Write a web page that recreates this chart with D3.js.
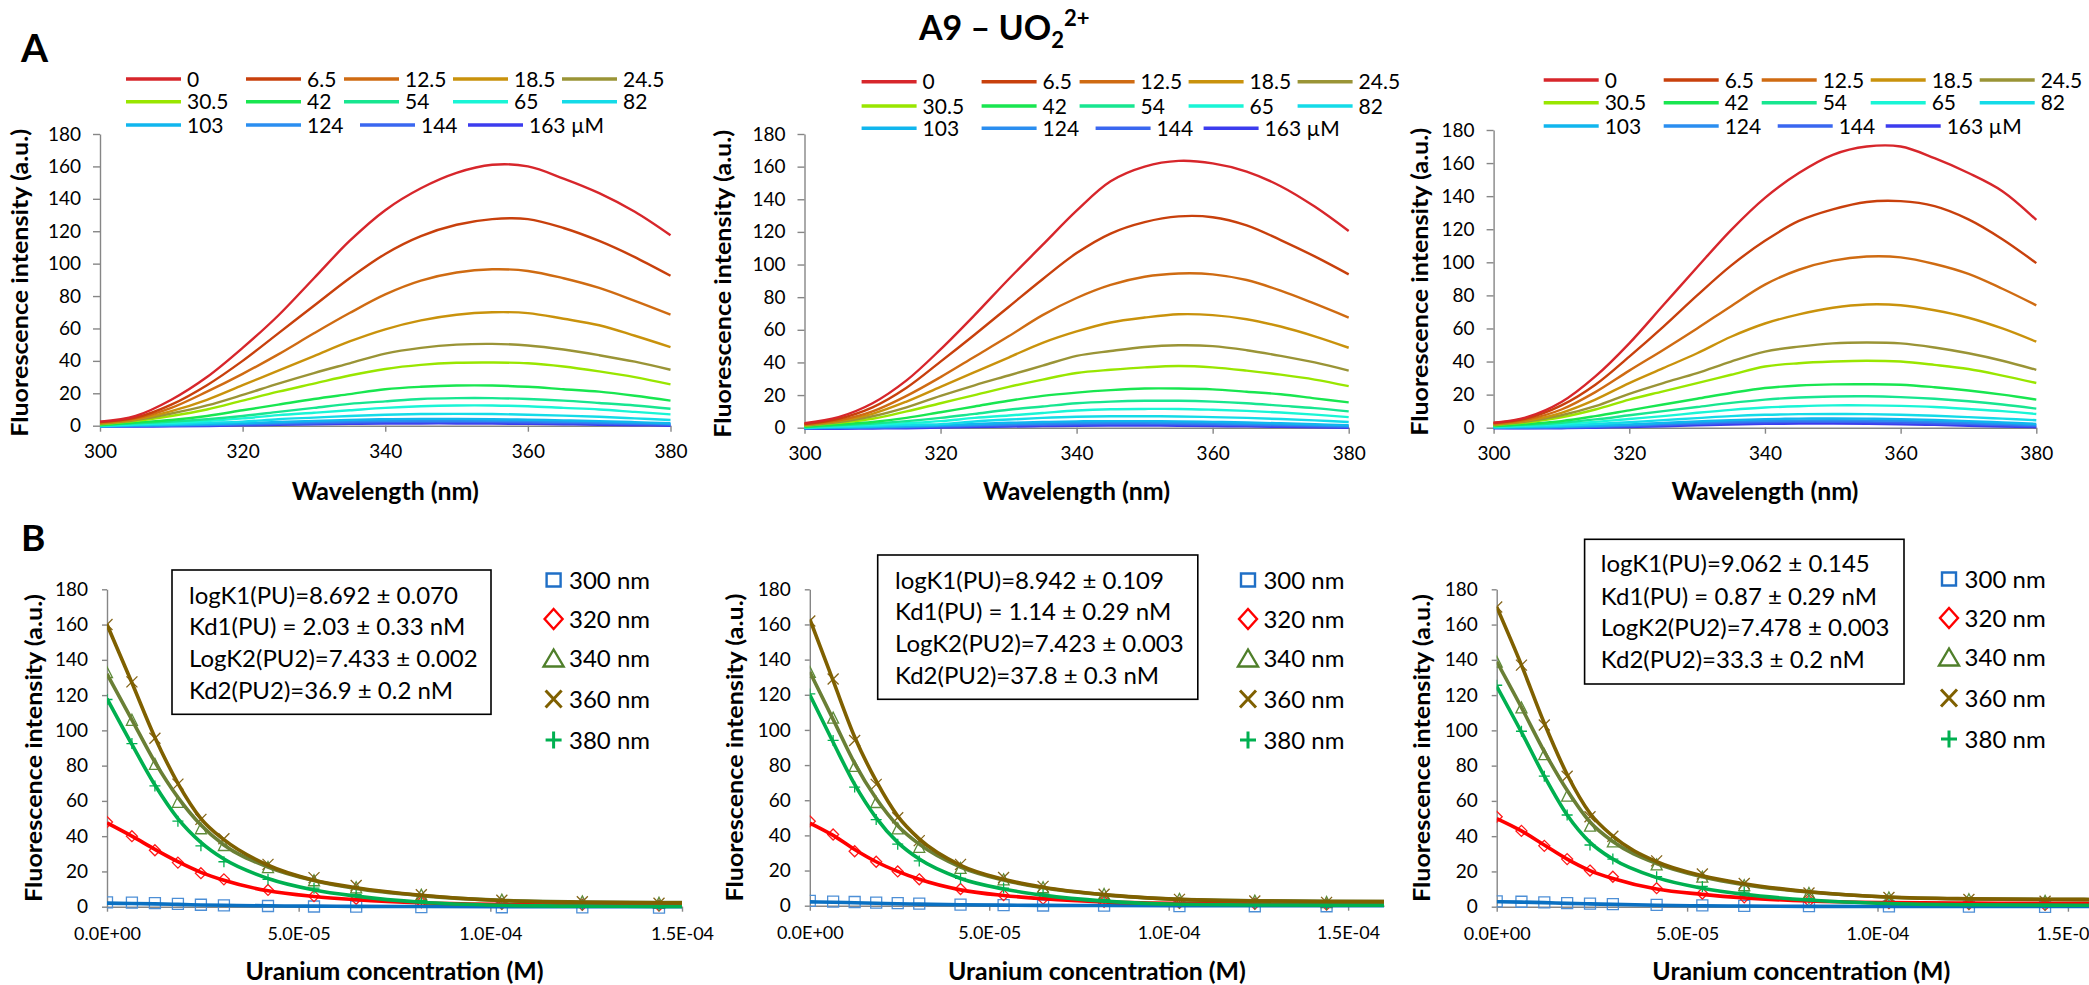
<!DOCTYPE html>
<html><head><meta charset="utf-8">
<script src="https://cdn.jsdelivr.net/npm/d3@7"></script>
<style>
body{margin:0;background:#fff;}
svg text{font-family:Lato,'Open Sans',sans-serif;fill:#000;}
</style></head><body><div id="chart"></div>
<script>
// ---------------- DATA ----------------
const wavelengths = [300,305,310,315,320,325,330,335,340,345,350,355,360,365,370,375,380];
const concentrationsUM = [0,6.5,12.5,18.5,24.5,30.5,42,54,65,82,103,124,144,163];
const legendLabels = ["0","6.5","12.5","18.5","24.5","30.5","42","54","65","82","103","124","144","163 µM"];

const spectraA1 = [
 [2.5,6,16,30,48,68,91,114,133,146.5,156,161,160,152.5,143.5,132,117.5],
 [2.3,5,13,25,40,57,74,91,106,117,124,127.5,127.5,122,114,104,92.5],
 [2,4.5,11,21,32,44,57,69.5,81,89.5,94.5,96.5,95.5,91,85,77,68.5],
 [1.6,4,9,16,25,34,43,52,59.5,65,68.5,70,69.5,66,62,55.5,48.5],
 [1.1,3.5,7.5,12.5,19,26,32.5,38.5,44.5,48,50,50.5,49.5,47,43.5,39.5,34.5],
 [0.8,3,6,10,15.5,21,26,31,35,37.5,38.8,39,38.5,36.5,33.5,30,25.5],
 [0.4,2,3.5,6,9.5,13,16.5,19.5,22.5,24,24.8,24.8,24,22.5,21,18.5,15.5],
 [0.1,1.5,2.5,4,6,8.5,11,13.5,15,16.5,17,17,16.5,15.5,14,12.5,10.5],
 [0,1,1.8,2.8,4.5,6.5,8,9.5,11,12,12.5,12.5,12,11,10,8.5,7],
 [-0.2,0.6,1,1.8,2.5,4,5,6,6.8,7.2,7.3,7.2,6.8,6.2,5.5,4.5,3.5],
 [-0.3,0.2,0.5,1,1.6,2.3,3,3.6,4,4.2,4.2,4,3.7,3.3,2.8,2.2,1.5],
 [-0.4,0,0.3,0.6,1.1,1.6,2.2,2.7,3,3.2,3.2,3,2.8,2.4,2,1.5,1],
 [-0.5,-0.3,0,0.3,0.7,1.1,1.5,1.9,2.2,2.3,2.3,2.2,2,1.7,1.4,1,0.6],
 [-0.6,-0.5,-0.4,-0.2,0.2,0.5,0.8,1.1,1.3,1.4,1.4,1.3,1.1,0.9,0.6,0.3,0]
];
const spectraA2 = [
 [2.8,6.5,15,29,48,69,91,112,133,151,160,163.5,162,157,148,135.5,120.5],
 [2.3,5.5,12.5,24.5,40.5,57,74,91,107,119,126,129.5,129,124,115,105,94],
 [2.1,4.5,10,19.5,31,43.5,56,69,79.5,87.5,92.5,94.5,94,90.5,84,76,67.5],
 [1.8,4,8.5,16,25,34,43,52,59,64.5,67.5,69.5,69,66.5,62,56,49],
 [1.5,3.5,7,12.5,19.5,26,32,38,44,47,49.5,50.5,50,47.5,44,40,35],
 [1.2,3,5.5,10,15,20,25,29.5,33.5,35.5,37,37.8,37,35,32.5,29.5,25.5],
 [0.6,2,3.5,6,9.5,13,16.5,19.5,21.5,23,24,24,23.5,22,20.5,18,15.5],
 [0.3,1.5,2.5,4,6,8.5,11,13,15,16,16.5,16.5,16,15,13.5,12,10],
 [0.1,1,1.8,2.8,4,6,7.5,9,10.5,11.3,11.5,11.5,11,10.3,9.3,8,6.5],
 [0,0.6,1,1.8,2.2,3.8,5,6,6.7,7,7,6.9,6.5,6,5.3,4.5,3.5],
 [-0.2,0.2,0.5,1,1.6,2.3,3,3.5,3.9,4,4,3.9,3.6,3.2,2.7,2.1,1.5],
 [-0.3,0,0.3,0.6,1.1,1.6,2.1,2.6,2.9,3.1,3.1,2.9,2.7,2.3,1.9,1.4,0.9],
 [-0.3,-0.3,0,0.3,0.7,1.1,1.5,1.8,2.1,2.2,2.2,2.1,1.9,1.6,1.3,0.9,0.5],
 [-0.6,-0.6,-0.5,-0.3,0.1,0.4,0.7,1,1.2,1.3,1.3,1.2,1,0.8,0.5,0.2,-0.1]
];
const spectraA3 = [
 [3,6.5,15.5,31,51,74,97,119.5,139,154,165,170,170,163,154,143,125.6],
 [2.8,5.8,13.5,26,43,61,80,98,113,125,132,136.5,137,134,126,114,99.5],
 [2.5,5,11,21.5,34.5,47,60,73.5,86.5,95.5,101,103.5,103,99,93,84,74],
 [2,4.3,9,17,27,36,45,55,63,68.5,72.5,74.5,74,71,66.5,60,52],
 [1.8,3.8,7.5,13,20.5,27,33,40,46,49,51,51.5,51,48.5,45,40.5,35],
 [1.5,3.3,6.3,11,17,22,27,32,37,39,40,40.5,40,38,35.5,31.5,27],
 [1,2.3,4,7,10.5,14,17.5,21,24,25.5,26.2,26.3,26,24.5,22.5,20,17],
 [0.8,1.8,3,5,7.5,10,12.5,15,17,18.3,18.9,19,18.5,17.5,16,14,11.5],
 [0.5,1.3,2.2,3.5,5.3,7,9,10.8,12.2,13,13.5,13.5,13.2,12.5,11.3,10,8.3],
 [0.3,0.8,1.3,2.2,3.3,4.6,5.8,7,7.8,8.2,8.3,8.2,7.8,7.2,6.4,5.5,4.5],
 [0.2,0.4,0.7,1.3,2,2.9,3.8,4.6,5.2,5.5,5.6,5.5,5.2,4.7,4,3.2,2.3],
 [0,0.1,0.4,0.9,1.5,2.3,3,3.7,4.2,4.4,4.5,4.4,4.1,3.6,3,2.3,1.5],
 [-0.1,-0.2,0.1,0.5,1,1.6,2.3,2.9,3.3,3.5,3.5,3.4,3.1,2.7,2.2,1.6,1],
 [-0.4,-0.4,-0.3,0,0.4,0.9,1.4,1.9,2.3,2.5,2.5,2.4,2.1,1.7,1.2,0.7,0.3]
];

// Panel B: markers are the spectra values at these wavelengths
const bWavelengths = [300,320,340,360,380];
const bWavelengthLabels = ["300 nm","320 nm","340 nm","360 nm","380 nm"];
// fitted curves (a.u.) at concentrationsUM, one row per wavelength
const fitB1 = [
 [2,1.8,1.6,1.3,1,0.8,0.5,0.3,0.2,0.1,0,0,0,0],
 [47.5,40,32.5,25.5,19.5,15,9,5.8,4,2.2,1.3,1,0.9,0.9],
 [132,106,82,62,46.3,35,22.5,14.8,10.3,6.3,3.6,2.7,2.4,2.3],
 [160,127,96,70,50,38,23.5,15,10.8,6.5,3.5,2.5,2.2,2.1],
 [118,92,69,50,36.5,27,16,9.5,6,2.5,0.8,0.3,0.2,0.2]
];
const fitB2 = [
 [2.2,2,1.7,1.4,1.1,0.9,0.5,0.3,0.2,0.1,0,0,0,0],
 [47,40,32,25,19.5,15,9,5.8,4,2.2,1.3,1,0.9,0.9],
 [133,106,81,61,45.5,35,22,14.6,10.2,6.2,3.6,2.8,2.5,2.4],
 [163,128,96,71,51,38,23,15,10.5,6.3,3.6,2.7,2.4,2.3],
 [120,93,69,50,36,26.5,15.5,9.5,6,2.6,0.8,0.4,0.3,0.3]
];
const fitB3 = [
 [2.8,2.6,2.3,1.9,1.6,1.3,0.8,0.5,0.4,0.2,0.1,0.1,0.1,0.1],
 [50,43,35,27,20.5,16,10,7,5,3.2,2.3,2,1.9,1.9],
 [139,113,88,66,48,37,24.5,17,12.5,8.3,5.4,4.4,4.1,4],
 [170,137,104,75,53,40,25.5,17.5,13,8.5,5.5,4.5,4.2,4.1],
 [125,99,74,52,36.5,27,16.5,10.5,7,3.8,1.8,1.1,0.9,0.8]
];
const fitText1 = ["logK1(PU)=8.692 ± 0.070","Kd1(PU) = 2.03 ± 0.33 nM","LogK2(PU2)=7.433 ± 0.002","Kd2(PU2)=36.9 ± 0.2 nM"];
const fitText2 = ["logK1(PU)=8.942 ± 0.109","Kd1(PU) = 1.14 ± 0.29 nM","LogK2(PU2)=7.423 ± 0.003","Kd2(PU2)=37.8 ± 0.3 nM"];
const fitText3 = ["logK1(PU)=9.062 ± 0.145","Kd1(PU) = 0.87 ± 0.29 nM","LogK2(PU2)=7.478 ± 0.003","Kd2(PU2)=33.3 ± 0.2 nM"];

const xTicksA = [300,320,340,360,380];
const yTicks = [0,20,40,60,80,100,120,140,160,180];
const xTicksB = [0,5e-5,1e-4,1.5e-4];
const xTickLabelsB = ["0.0E+00","5.0E-05","1.0E-04","1.5E-04"];

// ---------------- STYLE / LAYOUT ----------------
const seriesColors = ["#d7262b","#c8400c","#cf6b12","#c9920c","#9a9436","#99e600","#18e650","#17e690","#19f5d6","#14dbe8","#10b6ee","#2a8ef0","#3a67f0","#3c3cee"];
const bLineColors = ["#0a70c2","#ff0000","#6a7f35","#7f6000","#00b050"];
const bMarkColors = ["#4d8fd6","#ff1a1a","#5e8c3a","#86661a","#00b050"];
const bLegColors  = ["#1f6fc6","#ff0000","#4f7f2a","#7f6000","#00b050"];
const bMarkers = ["square","diamond","triangle","x","plus"];
const axisColor = "#868686";

const layoutA = [
 {x0:100, x1:670.5, yb:425.7, yt:134, legX:126, legY:[79,101.7,125], ytx:20, data:spectraA1},
 {x0:804.5, x1:1348.7, yb:427.7, yt:134, legX:861.6, legY:[81.7,106,128.3], ytx:723, data:spectraA2},
 {x0:1493.6, x1:2036.3, yb:427.7, yt:130, legX:1543.7, legY:[80,102.7,126], ytx:1420, data:spectraA3}
];
const layoutB = [
 {x0:107, x1:682, xmax:1.5e-4, yb:906.7, yt:589.3, box:[172,570,491,714.3], textX:189, textY:[595,626.7,658.3,690], legMX:553.6, legTX:569, legY:[580,619,658,699,740], ytx:33.5, fit:fitB1, txt:fitText1, spec:spectraA1},
 {x0:809.8, x1:1384, xmax:1.6e-4, yb:905.7, yt:589.3, box:[877.7,555,1197.8,699.3], textX:895, textY:[580,611.7,643.3,675], legMX:1248, legTX:1263.4, legY:[580,619,658,699,740], ytx:734.6, fit:fitB2, txt:fitText2, spec:spectraA2},
 {x0:1496.7, x1:2106, xmax:1.6e-4, yb:906.7, yt:589.3, box:[1584.6,539.3,1904,684], textX:1600.8, textY:[563,596.7,627.7,659.3], legMX:1949, legTX:1964.6, legY:[579,618,657,698,739], ytx:1422, fit:fitB3, txt:fitText3, spec:spectraA3}
];
const legColOff = [0,120,218,327,436];
const legColOffRow3 = [0,120,234,342];

const W = 2089, H = 985;
const svg = d3.select("#chart").append("svg").attr("width",W).attr("height",H);

function styleAxis(g){
  g.selectAll("path.domain").attr("stroke",axisColor).attr("stroke-width",1.4);
  g.selectAll(".tick line").attr("stroke",axisColor).attr("stroke-width",1.4);
  g.selectAll(".tick text").attr("fill","#000");
}

// Title
const title = svg.append("text").attr("x",919).attr("y",40).attr("font-size",34).attr("font-weight","bold");
title.append("tspan").text("A9 – UO");
title.append("tspan").attr("font-size",22).attr("dy",8).text("2");
title.append("tspan").attr("font-size",22).attr("dy",-22).text("2+");

svg.append("text").attr("x",21).attr("y",62).attr("font-size",39).attr("font-weight","bold").text("A");
svg.append("text").attr("x",21).attr("y",551).attr("font-size",37).attr("font-weight","bold").text("B");

// ---------------- PANELS A ----------------
layoutA.forEach((L,pi)=>{
  const x = d3.scaleLinear().domain([300,380]).range([L.x0,L.x1]);
  const y = d3.scaleLinear().domain([0,180]).range([L.yb,L.yt]);
  const g = svg.append("g");
  const gy = g.append("g").attr("transform",`translate(${L.x0},0)`)
    .call(d3.axisLeft(y).tickValues(yTicks).tickSize(7).tickPadding(12).tickSizeOuter(0));
  gy.selectAll("text").attr("font-size",19);
  styleAxis(gy);
  const gx = g.append("g").attr("transform",`translate(0,${L.yb})`)
    .call(d3.axisBottom(x).tickValues(xTicksA).tickSize(6).tickPadding(13).tickSizeOuter(0));
  gx.selectAll("text").attr("font-size",19);
  styleAxis(gx);

  const line = d3.line().x((d,i)=>x(wavelengths[i])).y(d=>y(d)).curve(d3.curveCatmullRom.alpha(0.5));
  L.data.slice().reverse().forEach((s,ri)=>{
    const si = L.data.length-1-ri;
    g.append("path").attr("d",line(s)).attr("fill","none")
      .attr("stroke",seriesColors[si]).attr("stroke-width",2.4);
  });

  legendLabels.forEach((lab,i)=>{
    const row = Math.floor(i/5), col = i%5;
    const off = row<2 ? legColOff[col] : legColOffRow3[col];
    const lx = L.legX + off, ly = L.legY[row];
    g.append("line").attr("x1",lx).attr("x2",lx+55).attr("y1",ly).attr("y2",ly)
      .attr("stroke",seriesColors[i]).attr("stroke-width",3.6);
    g.append("text").attr("x",lx+61).attr("y",ly).attr("dy","0.36em").attr("font-size",21).text(lab);
  });

  g.append("text").attr("transform",`translate(${L.ytx},${(L.yb+L.yt)/2+3}) rotate(-90)`)
    .attr("text-anchor","middle").attr("dy","0.36em").attr("font-size",23).attr("font-weight","bold")
    .attr("textLength",308).attr("lengthAdjust","spacingAndGlyphs")
    .text("Fluorescence intensity (a.u.)");
  g.append("text").attr("x",(L.x0+L.x1)/2).attr("y",500).attr("text-anchor","middle")
    .attr("font-size",24).attr("font-weight","bold")
    .attr("textLength",187).attr("lengthAdjust","spacingAndGlyphs").text("Wavelength (nm)");
});

// ---------------- PANELS B ----------------
function markerPath(type,w,h){
  switch(type){
    case "square": return `M${-w},${-h}H${w}V${h}H${-w}Z`;
    case "diamond": return `M0,${-h}L${w},0L0,${h}L${-w},0Z`;
    case "triangle": return `M0,${-h}L${w},${h}L${-w},${h}Z`;
    case "x": return `M${-w},${-h}L${w},${h}M${w},${-h}L${-w},${h}`;
    case "plus": return `M${-w},0H${w}M0,${-h}V${h}`;
  }
}
const wlIndex = bWavelengths.map(w=>wavelengths.indexOf(w));

layoutB.forEach((L,pi)=>{
  const x = d3.scaleLinear().domain([0,L.xmax]).range([L.x0,L.x1]);
  const y = d3.scaleLinear().domain([0,180]).range([L.yb,L.yt]);
  const g = svg.append("g");
  const clipId = "clipB"+pi;
  svg.append("defs").append("clipPath").attr("id",clipId).append("rect")
    .attr("x",L.x0).attr("y",L.yt-20).attr("width",L.x1-L.x0).attr("height",L.yb-L.yt+30);

  const gy = g.append("g").attr("transform",`translate(${L.x0},0)`)
    .call(d3.axisLeft(y).tickValues(yTicks).tickSize(5).tickPadding(14).tickSizeOuter(0));
  gy.selectAll("text").attr("font-size",19);
  styleAxis(gy);
  const gx = g.append("g").attr("transform",`translate(0,${L.yb})`)
    .call(d3.axisBottom(x).tickValues(xTicksB).tickFormat((d,i)=>xTickLabelsB[i]).tickSize(5).tickPadding(16).tickSizeOuter(0));
  gx.selectAll("text").attr("font-size",18);
  styleAxis(gx);

  const plot = g.append("g").attr("clip-path",`url(#${clipId})`);
  bWavelengths.forEach((wl,k)=>{
    concentrationsUM.forEach((c,ci)=>{
      const cm = c*1e-6;
      if(cm > L.xmax) return;
      const v = L.spec[ci][wlIndex[k]];
      plot.append("path").attr("transform",`translate(${x(cm)},${y(v)})`)
        .attr("d",markerPath(bMarkers[k],5.5,5.5)).attr("fill","none")
        .attr("stroke",bMarkColors[k]).attr("stroke-width",1.3);
    });
  });
  const order = [0,1,4,2,3];
  const line = d3.line().x((d,i)=>x(concentrationsUM[i]*1e-6)).y(d=>y(d)).curve(d3.curveMonotoneX);
  order.forEach(k=>{
    plot.append("path").attr("d",line(L.fit[k])).attr("fill","none")
      .attr("stroke",bLineColors[k]).attr("stroke-width",3.6).attr("stroke-linejoin","round");
  });

  const [bx0,by0,bx1,by1] = L.box;
  g.append("rect").attr("x",bx0).attr("y",by0).attr("width",bx1-bx0).attr("height",by1-by0)
    .attr("fill","#fff").attr("stroke","#000").attr("stroke-width",1.6);
  L.txt.forEach((t,i)=>{
    g.append("text").attr("x",L.textX).attr("y",L.textY[i]).attr("dy","0.36em").attr("font-size",24).text(t);
  });

  const legSize = [[7,6.5],[9,10],[10,8.5],[8,8.5],[8,8.5]];
  bWavelengthLabels.forEach((lab,k)=>{
    const ly = L.legY[k];
    g.append("path").attr("transform",`translate(${L.legMX},${ly})`)
      .attr("d",markerPath(bMarkers[k],legSize[k][0],legSize[k][1])).attr("fill","none")
      .attr("stroke",bLegColors[k]).attr("stroke-width",k>=3?3:2.4);
    g.append("text").attr("x",L.legTX).attr("y",ly).attr("dy","0.36em").attr("font-size",24).text(lab);
  });

  g.append("text").attr("transform",`translate(${L.ytx},${(L.yb+L.yt)/2}) rotate(-90)`)
    .attr("text-anchor","middle").attr("dy","0.36em").attr("font-size",23).attr("font-weight","bold")
    .attr("textLength",308).attr("lengthAdjust","spacingAndGlyphs")
    .text("Fluorescence intensity (a.u.)");
  g.append("text").attr("x",(L.x0+L.x1)/2).attr("y",980).attr("text-anchor","middle")
    .attr("font-size",25).attr("font-weight","bold")
    .attr("textLength",298).attr("lengthAdjust","spacingAndGlyphs").text("Uranium concentration (M)");
});
</script></body></html>
